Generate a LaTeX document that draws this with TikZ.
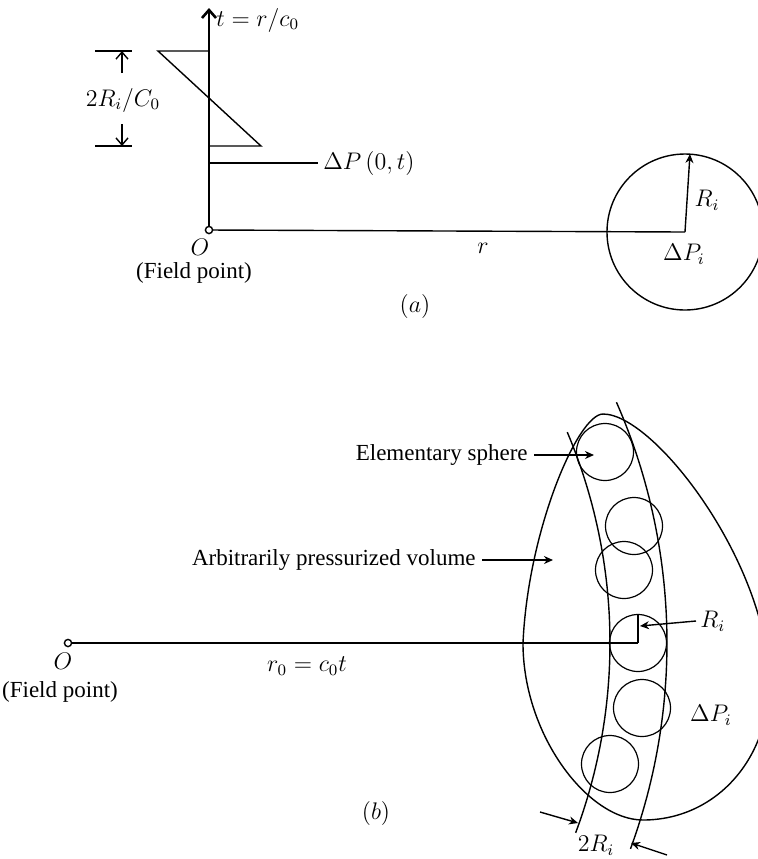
\documentclass[tikz,border=0pt]{standalone}
\usepackage{fontspec}
\setmainfont{Liberation Serif}
\usetikzlibrary{positioning,arrows.meta,calc}
\tikzset{
  lbl/.style={font=\fontsize{11.5}{13}\selectfont, inner sep=0pt},
  ln/.style={line width=0.7pt},
  axis/.style={line width=1.3pt, -{Straight Barb[length=4pt,width=7pt]}},
  dimarr/.style={line width=0.7pt, -{Straight Barb[length=3.5pt,width=6pt]}},
  ptr/.style={line width=0.7pt, -{Stealth[length=4.5pt,width=4pt]}},
  fpt/.style={draw, line width=0.7pt, fill=white, circle, minimum size=3.6pt, inner sep=0pt},
  sphere/.style={draw, line width=0.6pt, circle, minimum size=28.5pt, inner sep=0pt}
}

\begin{document}
\begin{tikzpicture}[x=0.5pt, y=-0.5pt]
  \useasboundingbox (0,0) rectangle (757,859);
  % ---- (a) ----
  \coordinate (Oa) at (209,230);
  \coordinate (ta) at (209,8);
  \coordinate (pk) at (158,51);
  \coordinate (pt) at (209,51);
  \coordinate (pb) at (209,146);
  \coordinate (pr) at (261,146);
  \coordinate (dp) at (209,163);
  \coordinate (src) at (685,232);
  \coordinate (srt) at (690,154);
  \draw[axis] (Oa) -- (ta);
  \node[lbl, anchor=west] (tlbl) at (216,20) {$t=r/c_0$};
  \draw[ln] (pt) -- (pk) -- (pr) -- (pb);
  % pulse width
  \coordinate (d1) at (95,51);
  \coordinate (d2) at (132,51);
  \coordinate (d3) at (95,146);
  \coordinate (d4) at (132,146);
  \coordinate (dup) at (122,73);
  \coordinate (ddn) at (122,124);
  \draw[ln] (d1) -- (d2);
  \draw[ln] (d3) -- (d4);
  \draw[dimarr] (dup) -- (dup |- d2);
  \draw[dimarr] (ddn) -- (ddn |- d4);
  \node[lbl] (wlbl) at (123,100) {$2R_i/C_0$};
  \node[lbl, anchor=west] (dplbl) at (323,163) {$\Delta P\,(0,t)$};
  \draw[ln, shorten >=2.5pt] (dp) -- (dplbl.west);
  \draw[ln] (Oa) -- (src);
  \draw[ln] (src) circle[radius=39pt];
  \draw[ptr] (src) -- (srt);
  \node[fpt] (oa) at (Oa) {};
  \node[lbl] (oalbl) at (200,247) {$O$};
  \node[lbl] (fpa) at (194,273) {(Field point)};
  \node[lbl] (rlbl) at (483,248) {$r$};
  \node[lbl] (rilbl) at (707,200) {$R_i$};
  \node[lbl] (dpilbl) at (684,254) {$\Delta P_i$};
  \node[lbl] (alab) at (415,306) {$(a)$};
  % ---- (b) ----
  \coordinate (Ob) at (68,643);
  \coordinate (sc) at (638,643);
  \coordinate (sct) at (638,614.5);
  % pressurized volume
  \draw[ln] (603,414) .. controls (578,414) and (528,530) .. (523,643)
                      .. controls (523,735) and (588,820) .. (643,820)
                      .. controls (715,820) and (769,760) .. (769,683)
                      .. controls (769,565) and (655,414) .. (603,414) -- cycle;
  % band of width 2R_i about r_0
  \draw[ln] plot[domain=-22.9:20.5, samples=60] ({68+542*cos(\x)},{643+542*sin(\x)});
  \draw[ln] plot[domain=-23.7:20.1, samples=60] ({68+599*cos(\x)},{643+599*sin(\x)});
  \foreach \n/\p in {1/{605,452}, 2/{634,526}, 3/{624,570}, 4/{638,643}, 5/{642,708}, 6/{610,764}}
    \node[sphere] (s\n) at (\p) {};
  \draw[ln] (Ob) -- (sc);
  \draw[ln] (sc) -- (sct);
  \node[fpt] (ob) at (Ob) {};
  \node[lbl] (oblbl) at (63,661) {$O$};
  \node[lbl] (fpb) at (60,692) {(Field point)};
  \node[lbl] (r0lbl) at (307,666) {$r_0=c_0t$};
  \node[lbl, anchor=east] (eslbl) at (528,455) {Elementary sphere};
  \coordinate (esend) at (594,455);
  \draw[ptr] ([xshift=3pt]eslbl.east) -- (esend);
  \node[lbl, anchor=east] (apvlbl) at (476,560) {Arbitrarily pressurized volume};
  \coordinate (apvend) at (553,560);
  \draw[ptr] ([xshift=3pt]apvlbl.east) -- (apvend);
  \node[lbl, anchor=west] (riblbl) at (700,621) {$R_i$};
  \coordinate (riend) at (640,626);
  \draw[ptr] ([xshift=-2pt]riblbl.west) -- (riend);
  \node[lbl] (dpiblbl) at (711,715) {$\Delta P_i$};
  \node[lbl] (blab) at (376,813) {$(b)$};
  \node[lbl] (wblbl) at (596,845) {$2R_i$};
  \coordinate (wl) at (540,812);
  \coordinate (wlt) at (578,823);
  \coordinate (wr) at (667,855);
  \coordinate (wrt) at (631,843);
  \draw[ptr] (wl) -- (wlt);
  \draw[ptr] (wr) -- (wrt);
\end{tikzpicture}
\end{document}
